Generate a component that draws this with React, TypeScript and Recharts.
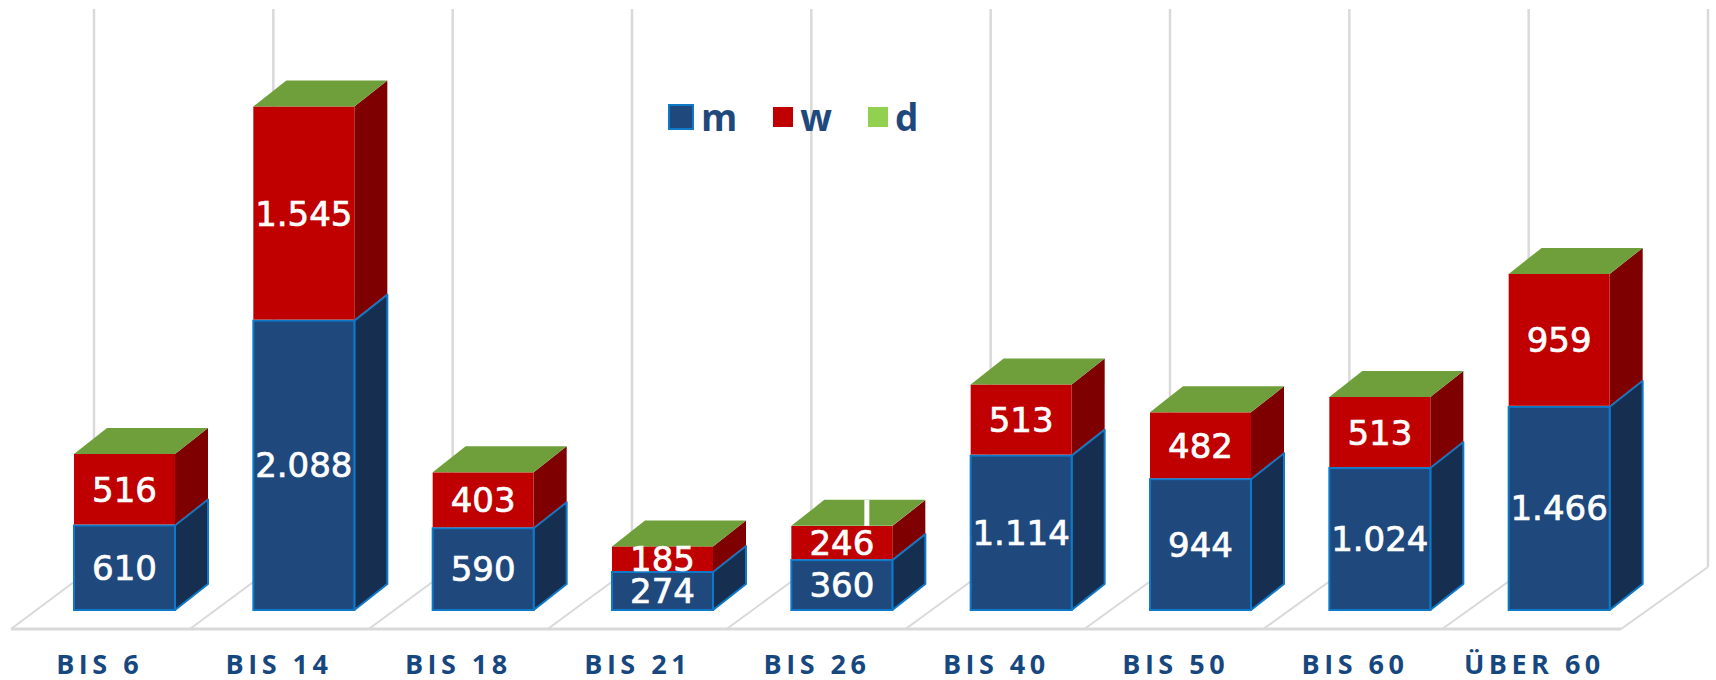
import { Bar, BarChart, LabelList, Legend, XAxis, YAxis } from 'recharts'

const categories = ['BIS 6', 'BIS 14', 'BIS 18', 'BIS 21', 'BIS 26', 'BIS 40', 'BIS 50', 'BIS 60', 'ÜBER 60']
const mValues = [610, 2088, 590, 274, 360, 1114, 944, 1024, 1466]
const wValues = [516, 1545, 403, 185, 246, 513, 482, 513, 959]
const dValues = [0, 0, 0, 0, 1, 0, 0, 0, 0]

const WIDTH = 1716
const HEIGHT = 680
const LEFT = 35
const RIGHT = 67
const TOP = 14
const AXIS_HEIGHT = 70
const DX = 33 // depth of the 3d bars
const DY = 26

const BAND = (WIDTH - LEFT - RIGHT) / categories.length
const BASE_Y = HEIGHT - AXIS_HEIGHT
const BLUE = '#1F497D'
const RED = '#C00000'
const LABEL_FONT = '"DejaVu Sans", sans-serif'
const AXIS_FONT = '"Open Sans", sans-serif'

const data = categories.map((name, i) => ({ name, m: mValues[i], w: wValues[i], d: dValues[i] }))

const fmt = (v: number) => String(v).replace(/\B(?=(\d{3})+$)/g, '.')

// back wall and floor, drawn behind the bars
const Floor = () => {
  const color = '#D9D9D9'
  const frontY = BASE_Y + 19
  const backY = BASE_Y - 43
  const lines = []
  for (let i = 0; i <= categories.length; i++) {
    const front = LEFT - 24 + i * 178.9
    const back = LEFT + 59 + i * BAND
    lines.push(
      <g key={i}>
        <line x1={back} x2={back} y1={9} y2={backY} stroke={color} strokeWidth={2.5} />
        <line x1={back} x2={front} y1={backY} y2={frontY} stroke={color} strokeWidth={2} />
      </g>,
    )
  }
  return (
    <g>
      {lines}
      <line x1={LEFT - 24} x2={LEFT - 24 + 9 * 178.9} y1={frontY} y2={frontY} stroke={color} strokeWidth={3} />
    </g>
  )
}

const BlueBar = ({ x, y, width, height }: any) => {
  const border = '#0F79C9'
  return (
    <g>
      <polygon
        points={`${x + width},${y} ${x + width + DX},${y - DY} ${x + width + DX},${y + height - DY} ${x + width},${y + height}`}
        fill="#162F50"
        stroke={border}
        strokeWidth={2}
        strokeLinejoin="round"
      />
      <rect x={x} y={y} width={width} height={height} fill={BLUE} stroke={border} strokeWidth={2} />
    </g>
  )
}

const RedBar = ({ x, y, width, height }: any) => (
  <g>
    <polygon
      points={`${x + width},${y} ${x + width + DX},${y - DY} ${x + width + DX},${y + height - DY - 1} ${x + width},${y + height - 1}`}
      fill="#7E0000"
    />
    <rect x={x} y={y} width={width} height={height - 1} fill={RED} />
  </g>
)

const Lid = ({ x, y, width, value }: any) => {
  const v = Array.isArray(value) ? value[1] - value[0] : value
  const slit = x + width / 2 + 25
  return (
    <g>
      <polygon
        points={`${x},${y} ${x + DX},${y - DY} ${x + width + DX},${y - DY} ${x + width},${y}`}
        fill="#6F9F3A"
      />
      {v > 0 && <rect x={slit - 2.5} y={y - DY} width={5} height={DY} fill="#FFFFFF" />}
    </g>
  )
}

const AxisTick = ({ x, y, payload }: any) => (
  <text
    x={x - 25}
    y={y + 56}
    textAnchor="middle"
    fill="#17477F"
    fontFamily={AXIS_FONT}
    fontWeight={700}
    fontSize={27}
    letterSpacing={4.5}
  >
    {payload.value}
  </text>
)

const LegendBox = ({ payload }: any) => (
  <div style={{ display: 'flex', alignItems: 'center', gap: 36 }}>
    {(payload ?? []).map((item: any) => (
      <div key={item.value} style={{ display: 'flex', alignItems: 'center', gap: 7 }}>
        <div
          style={{
            width: item.value === 'm' ? 22 : 20,
            height: item.value === 'm' ? 22 : 20,
            background: item.color,
            border: item.value === 'm' ? '2px solid #0F79C9' : 'none',
          }}
        />
        <span
          style={{
            fontFamily: AXIS_FONT,
            fontWeight: 700,
            fontSize: 37,
            lineHeight: '44px',
            color: BLUE,
          }}
        >
          {item.value}
        </span>
      </div>
    ))}
  </div>
)

const labelStyle = { fontFamily: LABEL_FONT, fontSize: 34, fill: '#FFFFFF', stroke: '#FFFFFF', strokeWidth: 0.7 }

export default function App() {
  return (
    <div style={{ position: 'absolute', left: 0, top: 0, width: WIDTH, height: HEIGHT }}>
      <BarChart
        width={WIDTH}
        height={HEIGHT}
        data={data}
        margin={{ top: TOP, right: RIGHT, bottom: 0, left: LEFT }}
        barCategoryGap={39}
      >
        <Floor />
        <XAxis dataKey="name" height={AXIS_HEIGHT} axisLine={false} tickLine={false} tick={<AxisTick />} interval={0} />
        <YAxis hide domain={[0, 4300]} />
        <Legend
          verticalAlign="middle"
          layout="horizontal"
          content={<LegendBox />}
          itemSorter={null}
          wrapperStyle={{ left: 668, top: 95, width: 'auto' }}
        />
        <Bar dataKey="m" name="m" stackId="a" fill={BLUE} shape={<BlueBar />} isAnimationActive={false}>
          <LabelList dataKey="m" position="center" formatter={fmt} style={labelStyle} />
        </Bar>
        <Bar dataKey="w" name="w" stackId="a" fill={RED} shape={<RedBar />} isAnimationActive={false}>
          <LabelList dataKey="w" position="center" formatter={fmt} style={labelStyle} />
        </Bar>
        <Bar dataKey="d" name="d" stackId="a" fill="#92D050" shape={<Lid />} isAnimationActive={false} />
      </BarChart>
    </div>
  )
}
